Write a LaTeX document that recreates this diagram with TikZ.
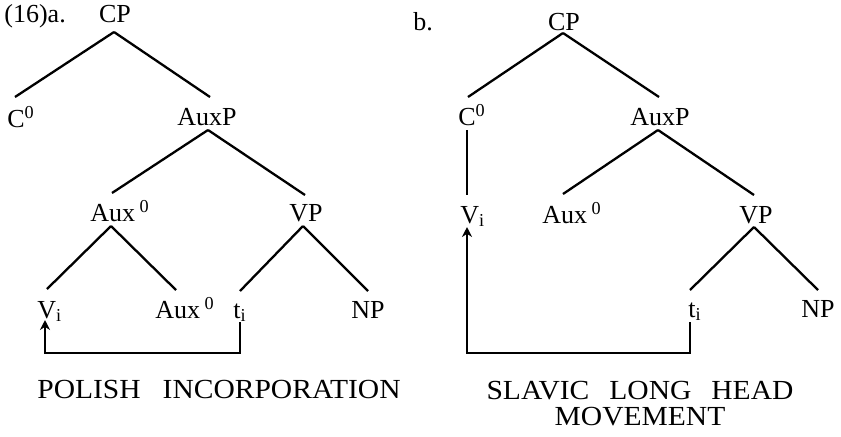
\documentclass[tikz,border=0pt]{standalone}
\usepackage{fontspec}
\setmainfont{Liberation Serif}
\newfontfamily\capfont[FakeStretch=1.07]{Liberation Serif}
\usetikzlibrary{calc,arrows.meta}
\begin{document}
\begin{tikzpicture}[x=0.5pt,y=-0.5pt,
  lab/.style={inner sep=0pt,font=\fontsize{13}{15}\selectfont},
  captext/.style={inner sep=0pt,align=center,font=\capfont\fontsize{13.8}{13}\selectfont},
  edge/.style={line width=1.15pt},
  move/.style={line width=1.15pt,-{Stealth[length=5pt,width=5pt]}}]
\useasboundingbox (0,0) rectangle (841,436);
\newcommand{\zsup}{\textsuperscript{0}}
% ---------- panel a ----------
\node[lab,anchor=base west] (numA) at (4,22) {(16)a.};
\node[lab,anchor=base] (cpA) at (115,22) {CP};
\node[lab,anchor=base west] (c0A) at (7,127) {C\zsup};
\node[lab,anchor=base] (auxpA) at (207,125) {AuxP};
\node[lab,anchor=base west] (auxA) at (90,221) {Aux\,\zsup};
\node[lab,anchor=base] (vpA) at (306,221) {VP};
\node[lab,anchor=base west] (viA) at (37,318) {V\textsubscript{i}};
\node[lab,anchor=base west] (auxlA) at (155,318) {Aux\,\zsup};
\node[lab,anchor=base west] (tiA) at (233,318) {t\textsubscript{i}};
\node[lab,anchor=base] (npA) at (368,318) {NP};
\node[captext,anchor=base] (capA) at (219,398) {POLISH\hspace{11pt}INCORPORATION};
\draw[edge] ($(cpA.base)+(-1,10)$) -- ($(c0A.base west)+(8,-30)$);
\draw[edge] ($(cpA.base)+(-1,10)$) -- ($(auxpA.base)+(3,-28)$);
\draw[edge] ($(auxpA.base)+(1,5)$) -- ($(auxA.base west)+(22,-28)$);
\draw[edge] ($(auxpA.base)+(1,5)$) -- ($(vpA.base)+(-1,-26)$);
\draw[edge] ($(auxA.base west)+(21,5)$) -- ($(viA.base west)+(10,-29)$);
\draw[edge] ($(auxA.base west)+(21,5)$) -- ($(auxlA.base west)+(21,-28)$);
\draw[edge] ($(vpA.base)+(-3,5)$) -- ($(tiA.base west)+(7,-27)$);
\draw[edge] ($(vpA.base)+(-3,5)$) -- ($(npA.base)+(0,-27)$);
\draw[move] ($(tiA.base west)+(7,4)$) -- ++(0,31) -| ($(viA.base west)+(8,2)$);
% ---------- panel b ----------
\node[lab,anchor=base west] (numB) at (413,30) {b.};
\node[lab,anchor=base] (cpB) at (564,30) {CP};
\node[lab,anchor=base west] (c0B) at (458,125) {C\zsup};
\node[lab,anchor=base] (auxpB) at (660,125) {AuxP};
\node[lab,anchor=base west] (viB) at (460,223) {V\textsubscript{i}};
\node[lab,anchor=base west] (auxB) at (542,223) {Aux\,\zsup};
\node[lab,anchor=base] (vpB) at (756,223) {VP};
\node[lab,anchor=base west] (tiB) at (688,317) {t\textsubscript{i}};
\node[lab,anchor=base] (npB) at (818,317) {NP};
\node[captext,anchor=north] (capB) at (640,381) {SLAVIC\hspace{10pt}LONG\hspace{10pt}HEAD\\MOVEMENT\hspace{6pt}};
\draw[edge] ($(cpB.base)+(-1,3)$) -- ($(c0B.base west)+(10,-28)$);
\draw[edge] ($(cpB.base)+(-1,3)$) -- ($(auxpB.base)+(-1,-28)$);
\draw[edge] ($(c0B.base west)+(9,5)$) -- ($(viB.base west)+(7,-28)$);
\draw[edge] ($(auxpB.base)+(-2,5)$) -- ($(auxB.base west)+(21,-29)$);
\draw[edge] ($(auxpB.base)+(-2,5)$) -- ($(vpB.base)+(-2,-28)$);
\draw[edge] ($(vpB.base)+(-2,4)$) -- ($(tiB.base west)+(2,-27)$);
\draw[edge] ($(vpB.base)+(-2,4)$) -- ($(npB.base)+(0,-27)$);
\draw[move] ($(tiB.base west)+(2,5)$) -- ++(0,31) -| ($(viB.base west)+(7,4)$);
\end{tikzpicture}
\end{document}
